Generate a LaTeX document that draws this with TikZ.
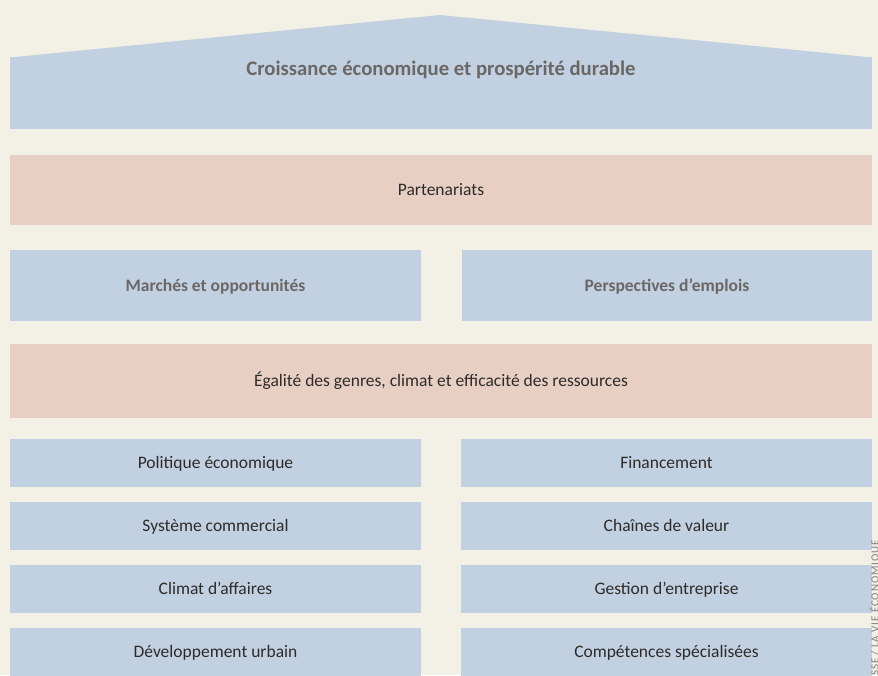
\documentclass[tikz,border=0pt]{standalone}
\usepackage{fontspec}
\setmainfont{Carlito}
\newfontfamily\creditfont[LetterSpace=8]{Carlito}
\begin{document}
\begin{tikzpicture}[x=1pt,y=-1pt,
  bluebox/.style={fill=paleblue,draw=none,inner sep=0pt},
  pinkbox/.style={fill=palepink,draw=none,inner sep=0pt},
  label base/.style={text height=12pt,text depth=4pt,inner sep=0pt,yshift=-1.5pt},
  headtext/.style={label base,font=\fontsize{20.7}{24}\selectfont\bfseries,text=headgray,text height=14pt},
  subtext/.style={label base,font=\fontsize{17.5}{20}\selectfont\bfseries,text=headgray},
  bodytext/.style={label base,font=\fontsize{17.5}{20}\selectfont,text=bodygray},
  credit/.style={font=\creditfont\fontsize{11}{13}\selectfont,text=creditgray,rotate=90,inner sep=0pt}
]
\definecolor{paper}{HTML}{F3F0E5}
\definecolor{paleblue}{HTML}{C1D1E1}
\definecolor{palepink}{HTML}{E8CFC3}
\definecolor{headgray}{HTML}{6A6766}
\definecolor{bodygray}{HTML}{2E2B2A}
\definecolor{creditgray}{HTML}{808080}

% page background
\fill[paper] (0,0) rectangle (878,675);
\useasboundingbox (0,0) rectangle (878,675);

% roof and top block
\fill[paleblue] (10,57.5) -- (440,15) -- (872,57.5) -- cycle;
\node[bluebox,minimum width=862pt,minimum height=72pt] (top) at (441,93) {};
\node[headtext] (toptitle) at (441,69) {Croissance économique et prospérité durable};

% partnerships band
\node[pinkbox,minimum width=862pt,minimum height=70pt] (part) at (441,190) {};
\node[bodytext] at (part.center) {Partenariats};

% markets and jobs
\node[bluebox,minimum width=411pt,minimum height=71pt] (markets) at (215.5,285.5) {};
\node[subtext] at (markets.center) {Marchés et opportunités};
\node[bluebox,minimum width=410pt,minimum height=71pt] (jobs) at (667,285.5) {};
\node[subtext] at (jobs.center) {Perspectives d’emplois};

% cross-cutting band
\node[pinkbox,minimum width=862pt,minimum height=74pt] (equal) at (441,381) {};
\node[bodytext] at (equal.center) {Égalité des genres, climat et efficacité des ressources};

% pillars, left column
\node[bluebox,minimum width=411pt,minimum height=48pt] (l1) at (215.5,463) {};
\node[bodytext] at (l1.center) {Politique économique};
\node[bluebox,minimum width=411pt,minimum height=48pt] (l2) at (215.5,526) {};
\node[bodytext] at (l2.center) {Système commercial};
\node[bluebox,minimum width=411pt,minimum height=48pt] (l3) at (215.5,589) {};
\node[bodytext] at (l3.center) {Climat d’affaires};
\node[bluebox,minimum width=411pt,minimum height=48pt] (l4) at (215.5,652) {};
\node[bodytext] at (l4.center) {Développement urbain};

% pillars, right column
\node[bluebox,minimum width=411pt,minimum height=48pt] (r1) at (666.5,463) {};
\node[bodytext] at (r1.center) {Financement};
\node[bluebox,minimum width=411pt,minimum height=48pt] (r2) at (666.5,526) {};
\node[bodytext] at (r2.center) {Chaînes de valeur};
\node[bluebox,minimum width=411pt,minimum height=48pt] (r3) at (666.5,589) {};
\node[bodytext] at (r3.center) {Gestion d’entreprise};
\node[bluebox,minimum width=411pt,minimum height=48pt] (r4) at (666.5,652) {};
\node[bodytext] at (r4.center) {Compétences spécialisées};

% photo credit along the right edge
\node[credit,anchor=base west] (cred) at (878.5,676) {SSE / LA VIE ÉCONOMIQUE};
\end{tikzpicture}
\end{document}
